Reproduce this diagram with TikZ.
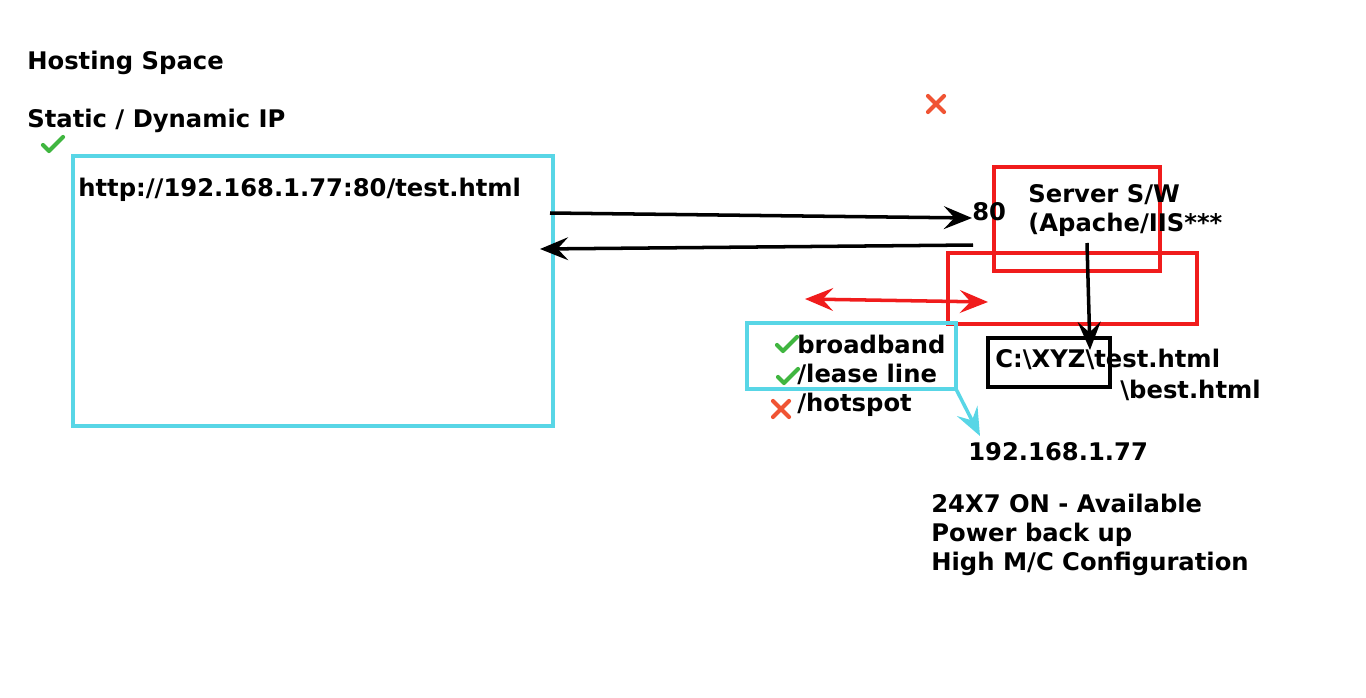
\documentclass[tikz,border=0pt]{standalone}
\usepackage{fontspec}
\setmainfont{DejaVu Sans}
\usetikzlibrary{arrows.meta,positioning}
\definecolor{boxcyan}{RGB}{88,214,230}
\definecolor{boxred}{RGB}{240,28,28}
\definecolor{tickgreen}{RGB}{64,182,64}
\definecolor{crossred}{RGB}{240,84,52}
\tikzset{
  lbl/.style={anchor=base west, inner sep=0, font=\fontsize{13.8}{16.5}\selectfont\bfseries},
  frame/.style={line width=2.2pt},
  tick/.style={tickgreen, line width=2.4pt, line cap=round, line join=round},
  cross/.style={crossred, line width=2.4pt, line cap=round},
  conn/.style={line width=2pt, -{Stealth[length=16pt,width=13pt,inset=6pt]}},
  redconn/.style={boxred, line width=2pt, {Stealth[length=16pt,width=13pt,inset=6pt]}-{Stealth[length=16pt,width=13pt,inset=6pt]}},
  cyanconn/.style={boxcyan, line width=2pt, -{Stealth[length=16pt,width=13pt,inset=6pt]}},
}
\newcommand{\tickat}[1]{\draw[tick] (#1) ++(-10,1) -- ++(6,6) -- ++(14,-14);}
\newcommand{\crossat}[1]{\draw[cross] (#1) ++(-8,-8) -- ++(16,16) ++(0,-16) -- ++(-16,16);}

\begin{document}
\begin{tikzpicture}[x=0.02cm, y=-0.02cm]
  \useasboundingbox (0,0) rectangle (1366,697);
  \node[lbl] (hosting) at (27,69) {Hosting Space};
  \node[lbl] (ipkind) at (27,127) {Static / Dynamic IP};
  \tickat{53,144}
  \crossat{936,104}

  \draw[frame, boxcyan] (73,156) rectangle (553,426);
  \node[lbl] (url) at (78,196) {http://192.168.1.77:80/test.html};
  \coordinate (req) at (550,213);
  \coordinate (back) at (540,249);
  \coordinate (resp) at (973,245);

  \draw[frame, boxred] (994,167) rectangle (1160,271);
  \draw[frame, boxred] (948,253) rectangle (1197,324);
  \node[lbl] (port) at (972,220) {80};
  \coordinate (portin) at (972,218);
  \node[lbl] (serversw) at (1028,202) {Server S/W};
  \node[lbl] (apache) at (1028,231) {(Apache/IIS***};
  \draw[conn] (req) -- (portin);
  \draw[conn] (resp) -- (back);

  \coordinate (netl) at (805,299);
  \coordinate (netr) at (988,302);
  \draw[redconn] (netl) -- (netr);

  \draw[frame] (988,338) rectangle (1110,387);
  \node[lbl] (path) at (995,367) {C:\textbackslash XYZ\textbackslash test.html};
  \node[lbl] (path2) at (1120,398) {\textbackslash best.html};
  \coordinate (swout) at (1087,243);
  \coordinate (diskin) at (1090,350);
  \draw[conn] (swout) -- (diskin);

  \draw[frame, boxcyan] (747,323) rectangle (956,389);
  \node[lbl] (bband) at (797,353) {broadband};
  \node[lbl] (lease) at (797,382) {/lease line};
  \node[lbl] (hotspot) at (797,411) {/hotspot};
  \tickat{787,344}
  \tickat{788,376}
  \crossat{781,409}

  \node[lbl] (ipaddr) at (968,460) {192.168.1.77};
  \coordinate (lnout) at (956,389);
  \coordinate (ipin) at (980,436);
  \draw[cyanconn] (lnout) -- (ipin);

  \node[lbl] (avail) at (931,512) {24X7 ON - Available};
  \node[lbl] (power) at (931,541) {Power back up};
  \node[lbl] (config) at (931,570) {High M/C Configuration};
\end{tikzpicture}
\end{document}
